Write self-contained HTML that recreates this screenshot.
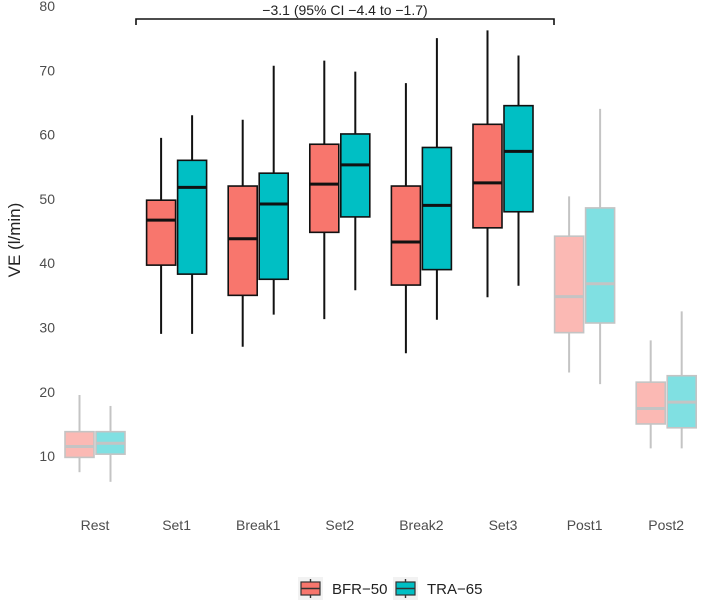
<!DOCTYPE html>
<html><head><meta charset="utf-8"><style>
body{margin:0;background:#fff;}
svg text{font-family:"Liberation Sans",Arial,sans-serif;fill:#4d4d4d;}
</style></head><body>
<svg id="chart" width="709" height="602"></svg>
<script>
const categories=["Rest","Set1","Break1","Set2","Break2","Set3","Post1","Post2"];
const faded=[true,false,false,false,false,false,true,true];
const bfrMin=[7.5,29,27,31.3,26,34.7,23,11.2];
const bfrQ1=[9.8,39.7,35,44.8,36.6,45.5,29.2,15];
const bfrMed=[11.5,46.7,43.8,52.3,43.3,52.5,34.8,17.4];
const bfrQ3=[13.8,49.8,52,58.5,52,61.6,44.2,21.5];
const bfrMax=[19.5,59.5,62.3,71.5,68,76.2,50.4,28];
const traMin=[6,29,32,35.8,31.2,36.5,21.2,11.2];
const traQ1=[10.3,38.3,37.5,47.2,39,48,30.7,14.4];
const traMed=[12,51.8,49.2,55.3,49,57.4,36.8,18.4];
const traQ3=[13.8,56,54,60.1,58,64.5,48.6,22.5];
const traMax=[17.8,63,70.7,69.8,75,72.3,64,32.5];
const yTicks=[10,20,30,40,50,60,70,80];
const annotation="−3.1 (95% CI −4.4 to −1.7)";

const NS="http://www.w3.org/2000/svg";
const svg=document.getElementById('chart');
const y=v=>6+(80-v)*6.43;
const x=i=>95+i*81.6;
function mk(tag,attrs,parent){const e=document.createElementNS(NS,tag);for(const k in attrs)e.setAttribute(k,attrs[k]);(parent||svg).appendChild(e);return e;}

yTicks.forEach(t=>{
  const tx=mk('text',{x:55,y:y(t)+5,'text-anchor':'end','font-size':14});
  tx.textContent=t;
  
  
});
const yt=mk('text',{x:0,y:0,'text-anchor':'middle','font-size':17,transform:'translate(20,240) rotate(-90)'});
yt.textContent="VE (l/min)";
yt.style.fill="#222";



function box(cx,mn,q1,md,q3,mx,fill,stroke,name){
  const g=mk('g',{});
  
  
  mk('line',{x1:cx,x2:cx,y1:y(mx),y2:y(mn),stroke:stroke,'stroke-width':2},g);
  mk('rect',{x:cx-14.5,y:y(q3),width:29,height:y(q1)-y(q3),fill:fill,stroke:stroke,'stroke-width':1.6},g);
  mk('line',{x1:cx-14.5,x2:cx+14.5,y1:y(md),y2:y(md),stroke:stroke,'stroke-width':3},g);
}
categories.forEach((c,i)=>{
  const f=faded[i];
  box(x(i)-15.5,bfrMin[i],bfrQ1[i],bfrMed[i],bfrQ3[i],bfrMax[i],f?'#fbb9b4':'#f8766d',f?'#c4c4c4':'#111','box-bfr-'+c.toLowerCase());
  box(x(i)+15.5,traMin[i],traQ1[i],traMed[i],traQ3[i],traMax[i],f?'#80e0e2':'#00bfc4',f?'#c4c4c4':'#111','box-tra-'+c.toLowerCase());
  const t=mk('text',{x:x(i),y:530,'text-anchor':'middle','font-size':14});
  t.textContent=c;
  
  
});
const br=mk('path',{d:'M136,25 V19 H554 V25',fill:'none',stroke:'#111','stroke-width':1.6});


const an=mk('text',{x:345,y:15,'text-anchor':'middle','font-size':14});
an.textContent=annotation;
an.style.fill="#222";



function legend(lx,fill,label,name){
  const g=mk('g',{});
  
  
  mk('rect',{x:lx,y:577,width:25,height:23,fill:'#f2f2f2'},g);
  mk('line',{x1:lx+12.5,x2:lx+12.5,y1:579,y2:598,stroke:'#333','stroke-width':1.4},g);
  mk('rect',{x:lx+3,y:582,width:19,height:13,fill:fill,stroke:'#333','stroke-width':1.2},g);
  mk('line',{x1:lx+3,x2:lx+22,y1:588.5,y2:588.5,stroke:'#333','stroke-width':1.4},g);
  const t=mk('text',{x:lx+34,y:594,'font-size':15},g);
  t.textContent=label;
  t.style.fill="#222";
}
legend(298,'#f8766d','BFR−50','legend-entry-bfr');
legend(393,'#00bfc4','TRA−65','legend-entry-tra');
</script>
</body></html>
